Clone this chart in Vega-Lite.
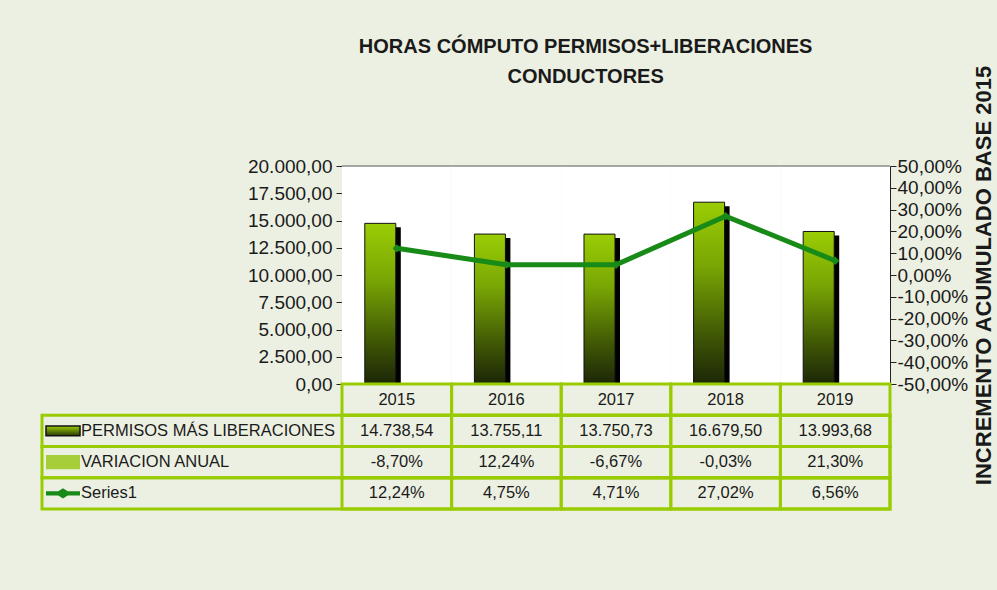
{
  "$schema": "https://vega.github.io/schema/vega-lite/v6.json",
  "background": "#ECF0E2",
  "padding": {"left": 40, "top": 36, "right": 10, "bottom": 80},
  "config": {
    "locale": {"number": {"decimal": ",", "thousands": ".", "grouping": [3], "currency": ["", " €"], "minus": "-"}},
    "view": {"stroke": null},
    "font": "Liberation Sans",
    "axis": {"labelFont": "Liberation Sans", "labelFontSize": 19, "labelColor": "#1a1a1a", "domainColor": "#222222", "tickColor": "#222222", "grid": false, "labelOverlap": false}
  },
  "title": {
    "text": ["HORAS CÓMPUTO PERMISOS+LIBERACIONES", "CONDUCTORES"],
    "font": "Liberation Sans",
    "fontWeight": "bold",
    "fontSize": 20,
    "lineHeight": 30,
    "color": "#1a1a1a",
    "anchor": "middle",
    "dx": 68,
    "offset": -22
  },
  "datasets": {
    "main": [
      {"year": "2015", "permisos": 14738.54, "variacion": -0.087, "series1": 0.1224},
      {"year": "2016", "permisos": 13755.11, "variacion": 0.1224, "series1": 0.0475},
      {"year": "2017", "permisos": 13750.73, "variacion": -0.0667, "series1": 0.0471},
      {"year": "2018", "permisos": 16679.50, "variacion": -0.0003, "series1": 0.2702},
      {"year": "2019", "permisos": 13993.68, "variacion": 0.2130, "series1": 0.0656}
    ],
    "labels": [
      {"key": "permisos", "label": "PERMISOS MÁS LIBERACIONES"},
      {"key": "variacion", "label": "VARIACION ANUAL"},
      {"key": "series1", "label": "Series1"}
    ]
  },
  "spacing": 0,
  "bounds": "flush",
  "resolve": {"scale": {"x": "independent", "y": "independent"}},
  "vconcat": [
    {
      "width": 848,
      "height": 218,
      "data": {"name": "main"},
      "layer": [
        {
          "layer": [
            {
              "mark": {"type": "rect", "fill": "white"},
              "encoding": {
                "x": {"field": "year", "type": "ordinal", "scale": {"range": [300, 848], "paddingInner": 0, "paddingOuter": 0}, "axis": null},
                "y": {"datum": 0, "type": "quantitative", "scale": {"domain": [0, 20000]}, "title": null,
                  "axis": {"orient": "left", "offset": -300, "values": [0, 2500, 5000, 7500, 10000, 12500, 15000, 17500, 20000], "format": ",.2f", "tickSize": 6, "labelPadding": 4, "labelOverlap": false, "labelBound": false, "title": null}},
                "y2": {"datum": 20000}
              }
            },
            {
              "mark": {"type": "rect", "fill": null, "stroke": "#8a8a8a", "strokeWidth": 1.5},
              "encoding": {
                "x": {"field": "year", "type": "ordinal"},
                "y": {"datum": 20000, "type": "quantitative", "title": null,
                  "axis": {"orient": "left", "offset": -300, "values": [0, 2500, 5000, 7500, 10000, 12500, 15000, 17500, 20000], "format": ",.2f", "tickSize": 6, "labelPadding": 4, "labelOverlap": false, "labelBound": false, "title": null}},
                "y2": {"datum": 20000}
              }
            },
            {
              "mark": {"type": "bar", "color": "#000000", "width": {"band": 0.283}, "xOffset": -11.5, "yOffset": 4, "clip": true},
              "encoding": {
                "x": {"field": "year", "type": "ordinal"},
                "y": {"field": "permisos", "type": "quantitative", "title": null,
                  "axis": {"orient": "left", "offset": -300, "values": [0, 2500, 5000, 7500, 10000, 12500, 15000, 17500, 20000], "format": ",.2f", "tickSize": 6, "labelPadding": 4, "labelOverlap": false, "labelBound": false, "title": null}}
              }
            },
            {
              "mark": {"type": "bar", "stroke": "#111111", "strokeWidth": 1, "width": {"band": 0.283}, "xOffset": -16.5,
                "color": {"gradient": "linear", "x1": 0, "y1": 0, "x2": 0, "y2": 1,
                  "stops": [{"offset": 0, "color": "#9ACD05"}, {"offset": 0.35, "color": "#79A604"}, {"offset": 0.75, "color": "#3D5405"}, {"offset": 1, "color": "#1C2608"}]}},
              "encoding": {
                "x": {"field": "year", "type": "ordinal"},
                "y": {"field": "permisos", "type": "quantitative", "title": null,
                  "axis": {"orient": "left", "offset": -300, "values": [0, 2500, 5000, 7500, 10000, 12500, 15000, 17500, 20000], "format": ",.2f", "tickSize": 6, "labelPadding": 4, "labelOverlap": false, "labelBound": false, "title": null}}
              }
            },
            {
              "mark": {"type": "bar", "color": "#A6CE39", "stroke": "#A6CE39", "strokeWidth": 2, "width": {"band": 0.283}, "xOffset": 16},
              "encoding": {
                "x": {"field": "year", "type": "ordinal"},
                "y": {"field": "variacion", "type": "quantitative", "title": null,
                  "axis": {"orient": "left", "offset": -300, "values": [0, 2500, 5000, 7500, 10000, 12500, 15000, 17500, 20000], "format": ",.2f", "tickSize": 6, "labelPadding": 4, "labelOverlap": false, "labelBound": false, "title": null}}
              }
            }
          ]
        },
        {
          "mark": {"type": "line", "color": "#178A17", "strokeWidth": 5,
            "point": {"shape": "diamond", "size": 70, "filled": true, "color": "#178A17"}},
          "encoding": {
            "x": {"field": "year", "type": "ordinal"},
            "y": {"field": "series1", "type": "quantitative", "scale": {"domain": [-0.5, 0.5]},
              "axis": {"orient": "right", "values": [-0.5, -0.4, -0.3, -0.2, -0.1, 0, 0.1, 0.2, 0.3, 0.4, 0.5], "format": ".2%", "tickSize": 6, "labelPadding": 1, "labelOverlap": false, "labelBound": false,
                "title": "INCREMENTO ACUMULADO BASE 2015", "titleFontSize": 22, "titleFontWeight": "bold", "titleColor": "#1a1a1a", "titleAngle": 270, "titlePadding": 28, "titleFont": "Liberation Sans"}}
          }
        }
      ],
      "resolve": {"scale": {"y": "independent"}}
    },
    {
      "width": 848,
      "height": 125,
      "layer": [
        {
          "data": {"name": "main"},
          "layer": [
            {
              "transform": [{"fold": ["permisos", "variacion", "series1"], "as": ["key", "value"]}],
              "mark": {"type": "rect", "fill": null, "stroke": "#99CC00", "strokeWidth": 3},
              "encoding": {
                "x": {"field": "year", "type": "ordinal", "scale": {"range": [300, 848], "paddingInner": 0, "paddingOuter": 0}, "axis": null},
                "y": {"field": "key", "type": "nominal", "scale": {"domain": ["hdr", "permisos", "variacion", "series1"], "paddingInner": 0, "paddingOuter": 0}, "axis": null}
              }
            },
            {
              "mark": {"type": "rect", "fill": null, "stroke": "#99CC00", "strokeWidth": 3},
              "encoding": {
                "x": {"field": "year", "type": "ordinal"},
                "y": {"datum": "hdr", "type": "nominal"}
              }
            },
            {
              "mark": {"type": "text", "fontSize": 16.5, "color": "#1a1a1a"},
              "encoding": {
                "x": {"field": "year", "type": "ordinal"},
                "y": {"datum": "hdr", "type": "nominal"},
                "text": {"field": "year"}
              }
            },
            {
              "mark": {"type": "text", "fontSize": 16.5, "color": "#1a1a1a"},
              "encoding": {
                "x": {"field": "year", "type": "ordinal"},
                "y": {"datum": "permisos", "type": "nominal"},
                "text": {"field": "permisos", "type": "quantitative", "format": ",.2f"}
              }
            },
            {
              "mark": {"type": "text", "fontSize": 16.5, "color": "#1a1a1a"},
              "encoding": {
                "x": {"field": "year", "type": "ordinal"},
                "y": {"datum": "variacion", "type": "nominal"},
                "text": {"field": "variacion", "type": "quantitative", "format": ".2%"}
              }
            },
            {
              "mark": {"type": "text", "fontSize": 16.5, "color": "#1a1a1a"},
              "encoding": {
                "x": {"field": "year", "type": "ordinal"},
                "y": {"datum": "series1", "type": "nominal"},
                "text": {"field": "series1", "type": "quantitative", "format": ".2%"}
              }
            }
          ]
        },
        {
          "data": {"name": "labels"},
          "layer": [
            {
              "mark": {"type": "rect", "fill": null, "stroke": "#99CC00", "strokeWidth": 3},
              "encoding": {
                "y": {"field": "key", "type": "nominal"}
              }
            },
            {
              "mark": {"type": "text", "fontSize": 16.5, "color": "#1a1a1a", "align": "left"},
              "encoding": {
                "x": {"datum": "tx", "type": "nominal", "scale": {"type": "point", "domain": ["sw", "tx"], "range": [21, 39], "padding": 0}, "axis": null},
                "y": {"field": "key", "type": "nominal"},
                "text": {"field": "label"}
              }
            },
            {
              "transform": [{"filter": "datum.key == 'permisos'"}],
              "mark": {"type": "point", "filled": true, "shape": "M-1,-0.28H1V0.28H-1Z", "size": 1156, "strokeWidth": 1.5, "stroke": "#111111", "opacity": 1,
                "fill": {"gradient": "linear", "x1": 0, "y1": 0, "x2": 0, "y2": 1,
                  "stops": [{"offset": 0, "color": "#9ACD05"}, {"offset": 1, "color": "#2A3A06"}]}},
              "encoding": {
                "x": {"datum": "sw", "type": "nominal"},
                "y": {"field": "key", "type": "nominal"}
              }
            },
            {
              "transform": [{"filter": "datum.key == 'variacion'"}],
              "mark": {"type": "point", "filled": true, "shape": "M-1,-0.42H1V0.42H-1Z", "size": 1156, "color": "#A6CE39", "opacity": 1},
              "encoding": {
                "x": {"datum": "sw", "type": "nominal"},
                "y": {"field": "key", "type": "nominal"}
              }
            },
            {
              "transform": [{"filter": "datum.key == 'series1'"}],
              "mark": {"type": "point", "filled": true, "shape": "M-1,-0.12H-0.28L0,-0.3L0.28,-0.12H1V0.12H0.28L0,0.3L-0.28,0.12H-1Z", "size": 1156, "color": "#178A17", "opacity": 1},
              "encoding": {
                "x": {"datum": "sw", "type": "nominal"},
                "y": {"field": "key", "type": "nominal"}
              }
            }
          ]
        }
      ],
      "resolve": {"scale": {"x": "independent"}}
    }
  ]
}
